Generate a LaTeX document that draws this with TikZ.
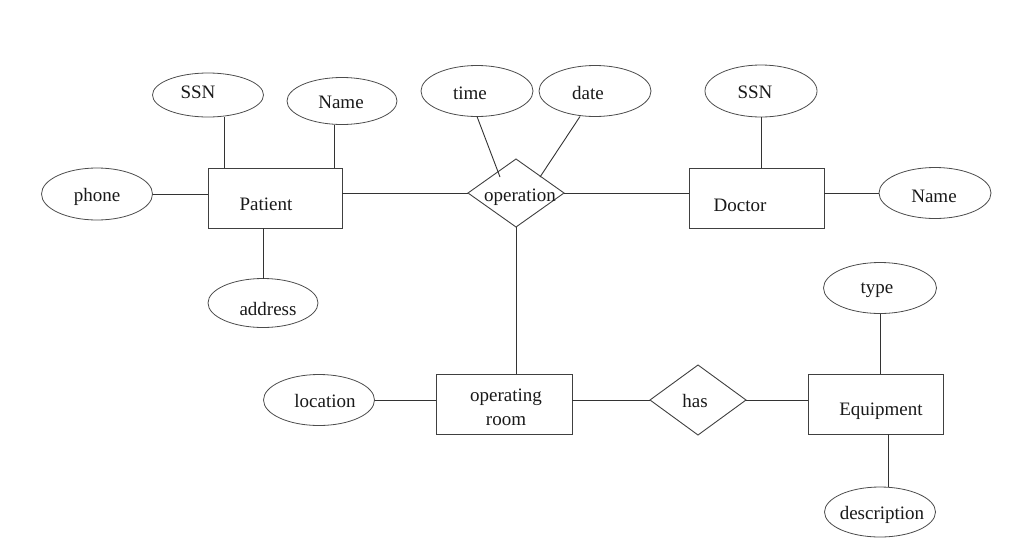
\documentclass[tikz,border=0pt]{standalone}
\usepackage{fontspec}
\setmainfont{Liberation Serif}
\usetikzlibrary{shapes.geometric,calc}
\begin{document}
\begin{tikzpicture}[x=1pt,y=-1pt,
  every node/.style={inner sep=0pt,outer sep=0pt},
  conn/.style={draw=black!80,line width=0.9pt},
  entity/.style={draw=black!75,line width=0.9pt,rectangle,minimum width=134pt,minimum height=60pt},
  attr/.style={draw=black!70,line width=0.8pt,ellipse,minimum width=111pt,minimum height=50pt},
  rel/.style={draw=black!75,line width=0.9pt,diamond,minimum width=96pt,minimum height=68pt},
  lbl/.style={font=\fontsize{19}{22}\selectfont,text=black!90}]
\useasboundingbox (0,0) rectangle (1024,541);
% entities
\node[entity] (patient) at (275,198) {};
\node[entity,minimum width=135pt] (doctor) at (756.5,198) {};
\node[entity,minimum width=136pt] (oproom) at (504,404) {};
\node[entity,minimum width=135pt] (equip) at (875.5,404) {};
% relationships
\node[rel] (op) at (516,193) {};
\node[rel,minimum height=70pt] (has) at (698,400) {};
% attributes
\node[attr,minimum height=44pt] (pssn) at (208,95) {};
\node[attr,minimum height=47pt,minimum width=110pt] (pname) at (342,101) {};
\node[attr,minimum height=52pt] (phone) at (97,194) {};
\node[attr,minimum height=49pt,minimum width=110pt] (address) at (263,303) {};
\node[attr,minimum width=112pt,minimum height=51pt] (time) at (477,91) {};
\node[attr,minimum width=112pt,minimum height=51pt] (date) at (595,91) {};
\node[attr,minimum width=112pt,minimum height=52pt] (dssn) at (761,91) {};
\node[attr,minimum width=112pt,minimum height=51pt] (dname) at (935,193) {};
\node[attr,minimum width=113pt,minimum height=51pt] (type) at (880,288) {};
\node[attr] (desc) at (880,512) {};
\node[attr,minimum height=51pt] (location) at (319,400) {};
% helper x positions
\coordinate (x224) at (224,0);
\coordinate (x334) at (334,0);
\coordinate (x888) at (888,0);
% connectors
\draw[conn] (pssn.south -| x224) -- (patient.north -| x224);
\draw[conn] (pname.south -| x334) -- (patient.north -| x334);
\draw[conn] (phone.east) -- (phone.east -| patient.west);
\draw[conn] (patient.south -| address) -- (address.north);
\draw[conn] (op.west -| patient.east) -- (op.west);
\draw[conn] (op.east) -- (op.east -| doctor.west);
\draw[conn] (time.south) -- ($(op)+(-16,-16)$);
\draw[conn] ($(date.south)+(-15,0)$) -- ($(op)+(24,-16)$);
\draw[conn] (dssn.south) -- (dssn.south |- doctor.north);
\draw[conn] (doctor.east |- dname.west) -- (dname.west);
\draw[conn] (op.south) -- (op.south |- oproom.north);
\draw[conn] (location.east) -- (location.east -| oproom.west);
\draw[conn] (has.west -| oproom.east) -- (has.west);
\draw[conn] (has.east) -- (has.east -| equip.west);
\draw[conn] (type.south) -- (type.south |- equip.north);
\draw[conn] (desc.north -| x888) -- (equip.south -| x888);
% labels
\node[lbl] (tpatient) at (266,204) {Patient};
\node[lbl] (tdoctor) at (740,205) {Doctor};
\node[lbl,align=center] (toproom) at (506,407) {operating\\[2pt]room};
\node[lbl] (tequip) at (881,411) {Equipment};
\node[lbl] (top) at (520,197) {operation};
\node[lbl] (thas) at (695,401) {has};
\node[lbl] (tpssn) at (198,92) {SSN};
\node[lbl] (tpname) at (341,102) {Name};
\node[lbl] (tphone) at (97,197) {phone};
\node[lbl] (taddress) at (268,309) {address};
\node[lbl] (ttime) at (470,93) {time};
\node[lbl] (tdate) at (588,93) {date};
\node[lbl] (tdssn) at (755,92) {SSN};
\node[lbl] (tdname) at (934,196) {Name};
\node[lbl] (ttype) at (877,290) {type};
\node[lbl] (tdesc) at (882,515) {description};
\node[lbl] (tlocation) at (325,401) {location};
\end{tikzpicture}
\end{document}
